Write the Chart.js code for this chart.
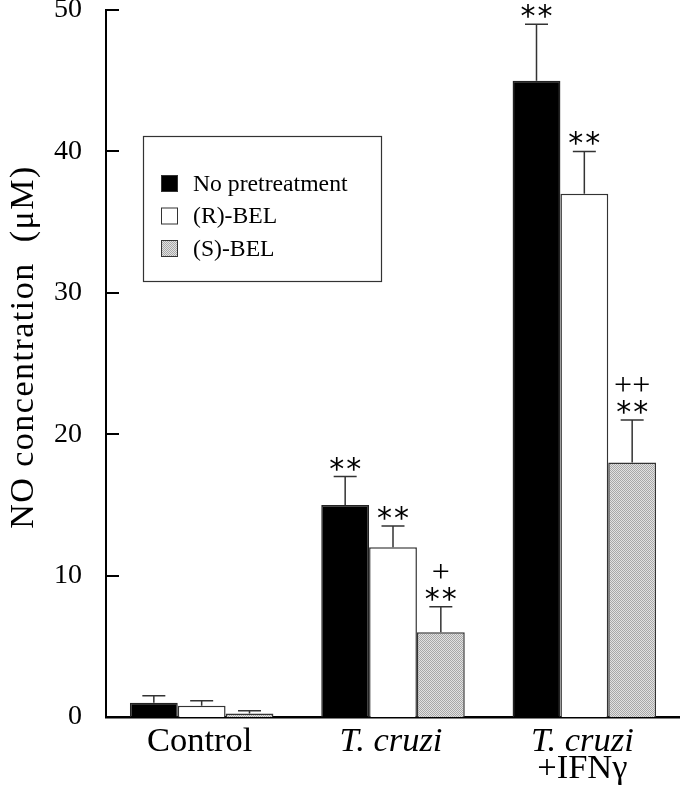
<!DOCTYPE html>
<html>
<head>
<meta charset="utf-8">
<script src="https://cdn.jsdelivr.net/npm/chart.js@4.4.1/dist/chart.umd.min.js"></script>
<style>
html,body{margin:0;padding:0;background:#fff;}
#wrap{width:680px;height:789px;position:relative;}
</style>
</head>
<body>
<div id="wrap"><canvas id="c" width="680" height="789"></canvas></div>
<script>
// ---- data ----
const categories = ["Control", "T. cruzi", "T. cruzi+IFNγ"];
const xLabelLines = [[{t:"Control", i:false}], [{t:"T. cruzi", i:true}], [{t:"T. cruzi", i:true}, {t:"+IFNγ", i:false}]];
const seriesNames = ["No pretreatment", "(R)-BEL", "(S)-BEL"];
const noPretreatment = [1.0, 15, 45];
const rBEL = [0.8, 12, 37];
const sBEL = [0.25, 6, 18];
const noPretreatmentErr = [0.5, 2, 4];
const rBELErr = [0.35, 1.5, 3];
const sBELErr = [0.2, 1.8, 3];
const noPretreatmentSig = ["", "**", "**"];
const rBELSig = ["", "**", "**"];
const sBELSig = ["", "**", "**"];
const sBELPlus = ["", "+", "++"];
const yTicks = [0, 10, 20, 30, 40, 50];
const yTitle = "NO concentration  (μM)";

const serif = '"Liberation Serif"';
const starFont = '"DejaVu Sans"';

function build() {
  const pc = document.createElement('canvas');
  pc.width = 2; pc.height = 2;
  const pctx = pc.getContext('2d');
  pctx.fillStyle = '#e2e2e2'; pctx.fillRect(0,0,2,2);
  pctx.fillStyle = '#a8a8a8'; pctx.fillRect(0,0,1,1); pctx.fillRect(1,1,1,1);
  const grayPattern = document.getElementById('c').getContext('2d').createPattern(pc, 'repeat');

  const errs = [noPretreatmentErr, rBELErr, sBELErr];
  const sigs = [noPretreatmentSig, rBELSig, sBELSig];
  const pluses = [null, null, sBELPlus];

  const overlay = {
    id: 'overlay',
    afterDatasetsDraw(chart) {
      const ctx = chart.ctx;
      const y = chart.scales.y;
      ctx.save();
      chart.data.datasets.forEach((ds, di) => {
        const meta = chart.getDatasetMeta(di);
        meta.data.forEach((bar, i) => {
          const v = ds.data[i];
          const top = y.getPixelForValue(v);
          const cap = y.getPixelForValue(v + errs[di][i]);
          ctx.strokeStyle = '#333';
          ctx.lineWidth = 1.5;
          ctx.beginPath();
          ctx.moveTo(bar.x, top);
          ctx.lineTo(bar.x, cap);
          ctx.moveTo(bar.x - 11.5, cap);
          ctx.lineTo(bar.x + 11.5, cap);
          ctx.stroke();
          ctx.fillStyle = '#000';
          ctx.textAlign = 'center';
          ctx.textBaseline = 'alphabetic';
          if (sigs[di][i]) {
            ctx.font = '30px ' + starFont;
            ctx.letterSpacing = '2px';
            ctx.fillText(sigs[di][i], bar.x + 1, cap + 2);
            ctx.letterSpacing = '0px';
          }
          if (pluses[di] && pluses[di][i]) {
            ctx.font = '32px ' + serif;
            ctx.fillText(pluses[di][i], bar.x, cap - 25);
          }
        });
      });
      ctx.restore();
    },
    afterDraw(chart) {
      const ctx = chart.ctx;
      const y = chart.scales.y, x = chart.scales.x;
      const ca = chart.chartArea;
      ctx.save();
      ctx.strokeStyle = '#000';
      ctx.lineWidth = 2;
      y.ticks.forEach(t => {
        if (t.value === 0) return;
        const py = Math.round(y.getPixelForValue(t.value));
        ctx.beginPath();
        ctx.moveTo(ca.left, py);
        ctx.lineTo(ca.left + 13, py);
        ctx.stroke();
      });
      // y title
      ctx.save();
      ctx.translate(33, 347);
      ctx.rotate(-Math.PI / 2);
      ctx.font = '34px ' + serif;
      ctx.letterSpacing = '1.5px';
      ctx.fillStyle = '#000';
      ctx.textAlign = 'center';
      ctx.textBaseline = 'alphabetic';
      ctx.fillText(yTitle, 0, 0);
      ctx.restore();
      // x labels
      ctx.fillStyle = '#000';
      ctx.textAlign = 'center';
      ctx.textBaseline = 'alphabetic';
      xLabelLines.forEach((lines, i) => {
        const px = x.getPixelForValue(i);
        lines.forEach((ln, li) => {
          ctx.font = (ln.i ? 'italic ' : '') + '34.5px ' + serif;
          ctx.fillText(ln.t, px - 2, 751 + li * 27);
        });
      });
      // legend
      const lx = 143.5, ly = 136.5, lw = 238, lh = 145;
      ctx.strokeStyle = '#333';
      ctx.lineWidth = 1.2;
      ctx.fillStyle = '#fff';
      ctx.fillRect(lx, ly, lw, lh);
      ctx.strokeRect(lx, ly, lw, lh);
      chart.data.datasets.forEach((ds, di) => {
        const cy = 183.5 + di * 32.5;
        ctx.fillStyle = ds.backgroundColor;
        ctx.fillRect(161, cy - 8.5, 17, 17);
        ctx.strokeStyle = '#333';
        ctx.lineWidth = 1;
        ctx.strokeRect(161.5, cy - 8, 16, 16);
        ctx.fillStyle = '#000';
        ctx.textAlign = 'left';
        ctx.textBaseline = 'middle';
        ctx.font = '23.7px ' + serif;
        ctx.fillText(ds.label, 193, cy + 1);
      });
      ctx.restore();
    }
  };

  new Chart(document.getElementById('c'), {
    type: 'bar',
    data: {
      labels: categories,
      datasets: [
        { label: seriesNames[0], data: noPretreatment, backgroundColor: '#000', borderColor: '#222', borderWidth: 1.5 },
        { label: seriesNames[1], data: rBEL, backgroundColor: '#fff', borderColor: '#333', borderWidth: 1.5 },
        { label: seriesNames[2], data: sBEL, backgroundColor: grayPattern, borderColor: '#333', borderWidth: 1.5 }
      ]
    },
    options: {
      responsive: false,
      animation: false,
      devicePixelRatio: 1,
      layout: { padding: { top: 10, right: 0, left: 0, bottom: 0 } },
      plugins: { legend: { display: false }, tooltip: { enabled: false } },
      datasets: { bar: { categoryPercentage: 0.75, barPercentage: 1.0 } },
      scales: {
        x: {
          grid: { display: false },
          border: { display: true, color: '#000', width: 2.5 },
          ticks: { display: false },
          afterFit(s) { s.height = 72; s.paddingLeft = 0; s.paddingRight = 0; }
        },
        y: {
          min: 0, max: 50,
          afterBuildTicks(s) { s.ticks = yTicks.map(v => ({ value: v })); },
          grid: { display: false },
          border: { display: true, color: '#000', width: 2 },
          ticks: { color: '#000', font: { family: serif, size: 28 }, padding: 16 },
          afterFit(s) { s.width = 106; s.paddingTop = 0; s.paddingBottom = 0; }
        }
      }
    },
    plugins: [overlay]
  });
}

Promise.all([
  document.fonts.load('32px "Liberation Serif"'),
  document.fonts.load('italic 32px "Liberation Serif"'),
  document.fonts.load('30px "DejaVu Sans"')
]).then(build, build);
</script>
</body>
</html>
